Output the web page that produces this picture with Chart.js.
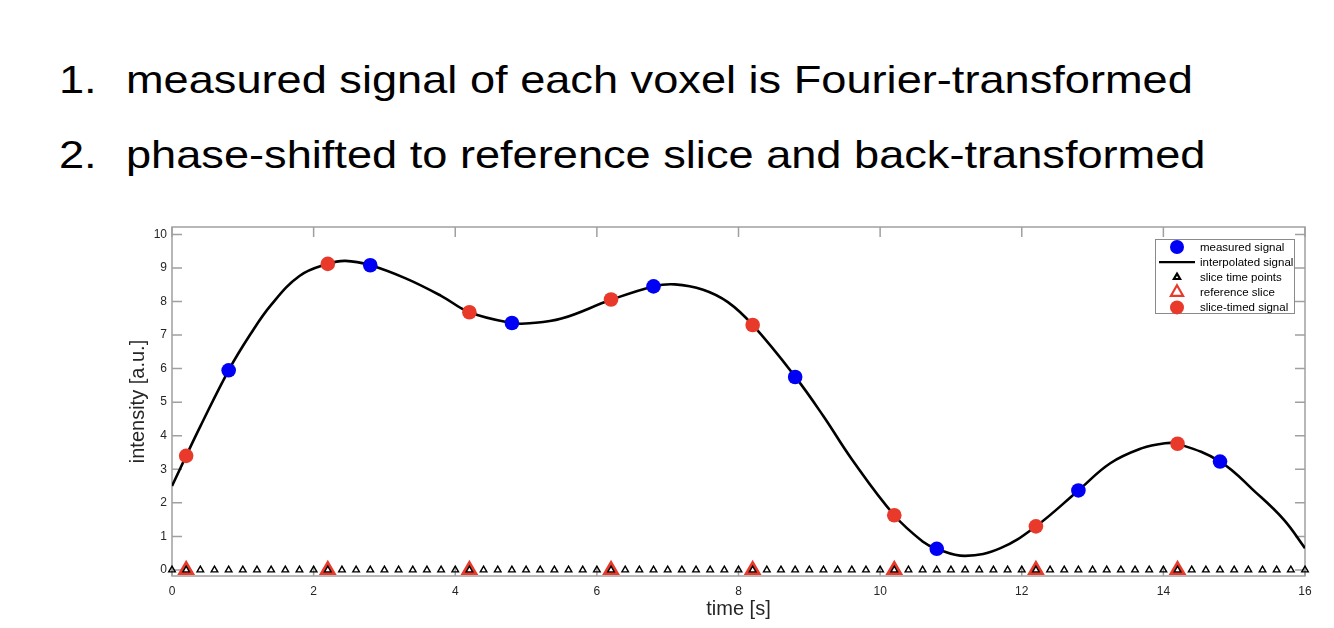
<!DOCTYPE html>
<html><head><meta charset="utf-8">
<script src="https://cdn.jsdelivr.net/npm/chart.js@4.4.1/dist/chart.umd.min.js"></script>
<style>
html,body{margin:0;padding:0;background:#fff;width:1334px;height:628px;overflow:hidden;}
.t{position:absolute;font-family:"Liberation Sans",Arial,Helvetica,sans-serif;font-size:39px;color:#000;white-space:nowrap;line-height:1;transform:scaleX(1.158);transform-origin:0 0;}
#wrap{position:absolute;left:0;top:0;width:1334px;height:628px;}
</style></head><body>
<div class="t" style="left:59px;top:60px;">1.</div>
<div class="t" style="left:126px;top:60px;">measured signal of each voxel is Fourier-transformed</div>
<div class="t" style="left:59px;top:135px;">2.</div>
<div class="t" style="left:126px;top:135px;">phase-shifted to reference slice and back-transformed</div>
<div id="wrap"><canvas id="c" width="1334" height="628"></canvas></div>
<script>
// ---- data ----
const xTickValues = [0, 2, 4, 6, 8, 10, 12, 14, 16];
const yTickValues = [0, 1, 2, 3, 4, 5, 6, 7, 8, 9, 10];

const measuredTimes  = [0.8, 2.8, 4.8, 6.8, 8.8, 10.8, 12.8, 14.8];
const measuredValues = [5.95, 9.08, 7.36, 8.45, 5.75, 0.63, 2.37, 3.23];

const curveTimes  = [0, 0.2, 0.4, 0.8, 1.1, 1.4, 1.8, 2.2, 2.45, 2.8, 3.3, 3.8, 4.2, 4.8, 5.05, 5.5, 6.2, 6.8, 7.1, 7.5, 7.85, 8.2, 8.8, 9.2, 9.6, 10.2, 10.6, 10.8, 11.2, 11.7, 12.2, 12.8, 13.25, 13.7, 14.0, 14.2, 14.8, 15.3, 15.7, 16];
const curveValues = [2.5, 3.4, 4.28, 5.95, 7.0, 7.9, 8.76, 9.12, 9.21, 9.08, 8.69, 8.17, 7.68, 7.36, 7.35, 7.49, 8.05, 8.45, 8.51, 8.35, 7.98, 7.3, 5.76, 4.58, 3.3, 1.63, 0.85, 0.63, 0.42, 0.65, 1.3, 2.37, 3.18, 3.63, 3.77, 3.76, 3.23, 2.32, 1.5, 0.65];

const sliceTimes  = [0, 0.2, 0.4, 0.6, 0.8, 1, 1.2, 1.4, 1.6, 1.8, 2, 2.2, 2.4, 2.6, 2.8, 3, 3.2, 3.4, 3.6, 3.8, 4, 4.2, 4.4, 4.6, 4.8, 5, 5.2, 5.4, 5.6, 5.8, 6, 6.2, 6.4, 6.6, 6.8, 7, 7.2, 7.4, 7.6, 7.8, 8, 8.2, 8.4, 8.6, 8.8, 9, 9.2, 9.4, 9.6, 9.8, 10, 10.2, 10.4, 10.6, 10.8, 11, 11.2, 11.4, 11.6, 11.8, 12, 12.2, 12.4, 12.6, 12.8, 13, 13.2, 13.4, 13.6, 13.8, 14, 14.2, 14.4, 14.6, 14.8, 15, 15.2, 15.4, 15.6, 15.8, 16];
const sliceValues = [0, 0, 0, 0, 0, 0, 0, 0, 0, 0, 0, 0, 0, 0, 0, 0, 0, 0, 0, 0, 0, 0, 0, 0, 0, 0, 0, 0, 0, 0, 0, 0, 0, 0, 0, 0, 0, 0, 0, 0, 0, 0, 0, 0, 0, 0, 0, 0, 0, 0, 0, 0, 0, 0, 0, 0, 0, 0, 0, 0, 0, 0, 0, 0, 0, 0, 0, 0, 0, 0, 0, 0, 0, 0, 0, 0, 0, 0, 0, 0, 0];

const referenceTimes  = [0.2, 2.2, 4.2, 6.2, 8.2, 10.2, 12.2, 14.2];
const referenceValues = [0, 0, 0, 0, 0, 0, 0, 0];

const sliceTimedTimes  = [0.2, 2.2, 4.2, 6.2, 8.2, 10.2, 12.2, 14.2];
const sliceTimedValues = [3.4, 9.12, 7.68, 8.06, 7.3, 1.63, 1.3, 3.76];

const seriesLabels = ['measured signal', 'interpolated signal', 'slice time points', 'reference slice', 'slice-timed signal'];

// ---- chart ----
function pts(xs, ys) { return xs.map((x, i) => ({ x: x, y: ys[i] })); }

const FONT = '"Liberation Sans", Arial, Helvetica, sans-serif';
const AXIS = '#a0a0a0';
const BLUE = '#0000f5';
const RED = '#e8392a';

const boxPlugin = {
  id: 'matlabBox',
  beforeDatasetsDraw(chart) {
    const { ctx, chartArea: a, scales: { x, y } } = chart;
    ctx.save();
    ctx.strokeStyle = AXIS;
    ctx.lineWidth = 1.5;
    ctx.strokeRect(a.left, a.top, a.right - a.left, a.bottom - a.top);
    const L = 10;
    ctx.beginPath();
    xTickValues.forEach(v => {
      const px = x.getPixelForValue(v);
      ctx.moveTo(px, a.bottom); ctx.lineTo(px, a.bottom - L);
      ctx.moveTo(px, a.top); ctx.lineTo(px, a.top + L);
    });
    yTickValues.forEach(v => {
      const py = y.getPixelForValue(v);
      ctx.moveTo(a.left, py); ctx.lineTo(a.left + L, py);
      ctx.moveTo(a.right, py); ctx.lineTo(a.right - L, py);
    });
    ctx.stroke();
    ctx.restore();
  },
  afterDraw(chart) {
    const { ctx, chartArea: a } = chart;
    const lx = a.right - 150, ly = a.top + 12, lw = 139, lh = 74;
    ctx.save();
    ctx.fillStyle = '#fff';
    ctx.fillRect(lx, ly, lw, lh);
    ctx.strokeStyle = '#8a8a8a';
    ctx.lineWidth = 1;
    ctx.strokeRect(lx + 0.5, ly + 0.5, lw, lh);
    chart.data.datasets.forEach((ds, i) => {
      const cy = ly + 8 + i * 15.1;
      const mx = lx + 22;
      if (ds.showLine) {
        ctx.strokeStyle = ds.borderColor;
        ctx.lineWidth = 2.2;
        ctx.beginPath(); ctx.moveTo(lx + 4, cy); ctx.lineTo(lx + 40, cy); ctx.stroke();
      } else {
        ctx.fillStyle = ds.pointBackgroundColor;
        ctx.strokeStyle = ds.pointBorderColor;
        Chart.helpers.drawPoint(ctx, {
          pointStyle: ds.pointStyle, radius: ds.legendRadius,
          borderWidth: ds.pointBorderWidth, rotation: 0
        }, mx, cy);
      }
      ctx.fillStyle = '#000';
      ctx.font = '11.5px ' + FONT;
      ctx.textBaseline = 'middle';
      ctx.textAlign = 'left';
      ctx.fillText(ds.label, lx + 45, cy + 0.5);
    });
    ctx.restore();
  }
};

new Chart(document.getElementById('c'), {
  type: 'scatter',
  data: {
    datasets: [
      { label: seriesLabels[0], data: pts(measuredTimes, measuredValues), showLine: false,
        pointStyle: 'circle', pointRadius: 7.3, legendRadius: 7, pointBackgroundColor: BLUE, pointBorderColor: BLUE,
        pointBorderWidth: 0, order: 1 },
      { label: seriesLabels[1], data: pts(curveTimes, curveValues), showLine: true,
        borderColor: '#000', borderWidth: 2.6, pointRadius: 0, cubicInterpolationMode: 'default', tension: 0.4, order: 3 },
      { label: seriesLabels[2], data: pts(sliceTimes, sliceValues), showLine: false, clip: false,
        pointStyle: 'triangle', pointRadius: 3.8, legendRadius: 3.6, pointBackgroundColor: 'rgba(255,255,255,0)',
        pointBorderColor: '#000', pointBorderWidth: 1.4, order: 2 },
      { label: seriesLabels[3], data: pts(referenceTimes, referenceValues), showLine: false, clip: false,
        pointStyle: 'triangle', pointRadius: 7.3, legendRadius: 7, pointBackgroundColor: 'rgba(255,255,255,0)',
        pointBorderColor: RED, pointBorderWidth: 3, order: 4 },
      { label: seriesLabels[4], data: pts(sliceTimedTimes, sliceTimedValues), showLine: false,
        pointStyle: 'circle', pointRadius: 7.3, legendRadius: 7, pointBackgroundColor: RED, pointBorderColor: RED,
        pointBorderWidth: 0, order: 0 }
    ]
  },
  options: {
    responsive: false,
    animation: false,
    events: [],
    layout: { padding: { left: 0, right: 29, top: 227, bottom: 0 } },
    plugins: { legend: { display: false }, tooltip: { enabled: false } },
    scales: {
      x: {
        type: 'linear', min: 0, max: 16,
        afterFit: s => { s.height = 52; },
        afterBuildTicks: s => { s.ticks = xTickValues.map(v => ({ value: v })); },
        grid: { display: false, drawTicks: false },
        border: { display: false },
        ticks: { color: '#262626', font: { family: FONT, size: 12 }, padding: 8, maxRotation: 0 },
        title: { display: true, text: 'time [s]', color: '#262626', font: { family: FONT, size: 20 }, padding: { top: 0, bottom: 7 } }
      },
      y: {
        type: 'linear', min: -0.18, max: 10.22,
        afterFit: s => { s.width = 172; },
        afterBuildTicks: s => { s.ticks = yTickValues.map(v => ({ value: v })); },
        grid: { display: false, drawTicks: false },
        border: { display: false },
        ticks: { color: '#262626', font: { family: FONT, size: 12 }, padding: 5 },
        title: { display: true, text: 'intensity [a.u.]', color: '#262626', font: { family: FONT, size: 20 }, padding: { top: 126, bottom: 0 } }
      }
    }
  },
  plugins: [boxPlugin]
});
</script>
</body></html>
